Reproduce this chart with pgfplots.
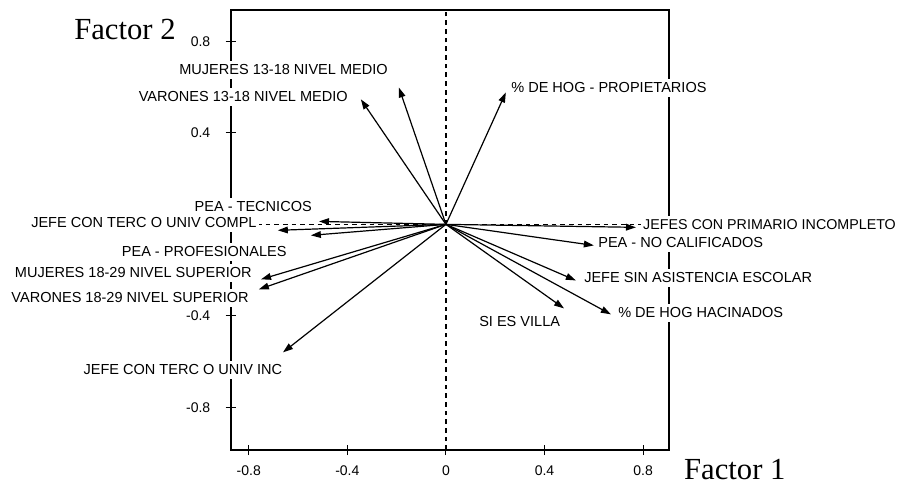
\documentclass[border=0pt]{standalone}
\usepackage{pgfplots}
\pgfplotsset{compat=1.18}
\usepackage{fontspec}
\setmainfont{Liberation Sans}
\newfontfamily\seriffont{Liberation Serif}
\usetikzlibrary{arrows.meta}
\newcommand{\lab}{\fontsize{10.9}{12}\selectfont}
\begin{document}
\begin{tikzpicture}
\begin{axis}[
  scale only axis, width=328.5pt, height=330pt,
  xmin=-0.872, xmax=0.905, ymin=-0.985, ymax=0.937,
  clip=false,
  xtick={-0.8,-0.4,0,0.4,0.8}, xticklabels={-0.8,-0.4,0,0.4,0.8},
  ytick={-0.8,-0.4,0.4,0.8}, yticklabels={-0.8,-0.4,0.4,0.8},
  tick pos=left, tick align=center, major tick length=8pt,
  tick style={black, line width=0.8pt},
  axis line style={black, line width=1pt},
  ticklabel style={font=\fontsize{10.5}{12}\selectfont},
  yticklabel style={xshift=-8pt},
  xticklabel style={yshift=-4pt},
  arr/.style={black, line width=0.9pt, no marks, solid, -{Triangle[length=7.5pt,width=5pt]}},
]
\addplot[black, no marks, line width=0.9pt, dash pattern=on 3.5pt off 3pt] coordinates {(0,-0.985) (0,0.937)};
\addplot[black, no marks, line width=0.8pt, dash pattern=on 3.5pt off 3pt] coordinates {(-0.872,0) (0.905,0)};
\addplot[arr] coordinates {(0,0) (-0.191,0.598)};
\addplot[arr] coordinates {(0,0) (-0.345,0.546)};
\addplot[arr] coordinates {(0,0) (0.243,0.576)};
\addplot[arr] coordinates {(0,0) (0.771,-0.013)};
\addplot[arr] coordinates {(0,0) (0.600,-0.092)};
\addplot[arr] coordinates {(0,0) (0.527,-0.245)};
\addplot[arr] coordinates {(0,0) (0.669,-0.393)};
\addplot[arr] coordinates {(0,0) (0.479,-0.367)};
\addplot[arr] coordinates {(0,0) (-0.682,-0.026)};
\addplot[arr] coordinates {(0,0) (-0.515,0.013)};
\addplot[arr] coordinates {(0,0) (-0.548,-0.048)};
\addplot[arr] coordinates {(0,0) (-0.750,-0.240)};
\addplot[arr] coordinates {(0,0) (-0.759,-0.284)};
\addplot[arr] coordinates {(0,0) (-0.661,-0.559)};
\coordinate (l1) at (axis cs:-0.227,0.675);
\coordinate (l2) at (axis cs:-0.389,0.557);
\coordinate (l3) at (axis cs:0.256,0.596);
\coordinate (l4) at (axis cs:0.791,-0.002);
\coordinate (l5) at (axis cs:0.609,-0.081);
\coordinate (l6) at (axis cs:0.552,-0.234);
\coordinate (l7) at (axis cs:0.690,-0.386);
\coordinate (l8) at (axis cs:0.126,-0.426);
\coordinate (l9) at (axis cs:-0.535,0.076);
\coordinate (l10) at (axis cs:-0.759,0.007);
\coordinate (l11) at (axis cs:-0.637,-0.120);
\coordinate (l12) at (axis cs:-0.779,-0.212);
\coordinate (l13) at (axis cs:-0.791,-0.321);
\coordinate (l14) at (axis cs:-1.067,-0.635);
\coordinate (f2) at (axis cs:-1.302,0.849);
\coordinate (f1) at (axis cs:1.172,-1.072);
\coordinate (BL) at (axis cs:-1.809,-1.146);
\coordinate (TR) at (axis cs:1.842,0.980);
\end{axis}
\begin{scope}[every node/.style={fill=white, inner xsep=1.5pt, inner ysep=3pt, font=\lab}]
\node[anchor=east] at (l1) {MUJERES 13-18 NIVEL MEDIO};
\node[anchor=east] at (l2) {VARONES 13-18 NIVEL MEDIO};
\node[anchor=west] at (l3) {\% DE HOG - PROPIETARIOS};
\node[anchor=west, font=\fontsize{10.7}{12}\selectfont] at (l4) {JEFES CON PRIMARIO INCOMPLETO};
\node[anchor=west] at (l5) {PEA - NO CALIFICADOS};
\node[anchor=west] at (l6) {JEFE SIN ASISTENCIA ESCOLAR};
\node[anchor=west] at (l7) {\% DE HOG HACINADOS};
\node[anchor=west] at (l8) {SI ES VILLA};
\node[anchor=east] at (l9) {PEA - TECNICOS};
\node[anchor=east] at (l10) {JEFE CON TERC O UNIV COMPL};
\node[anchor=east] at (l11) {PEA - PROFESIONALES};
\node[anchor=east] at (l12) {MUJERES 18-29 NIVEL SUPERIOR};
\node[anchor=east] at (l13) {VARONES 18-29 NIVEL SUPERIOR};
\node at (l14) {JEFE CON TERC O UNIV INC};
\end{scope}
\node[font=\seriffont\fontsize{23}{26}\selectfont, inner sep=0pt] at (f2) {Factor 2};
\node[font=\seriffont\fontsize{23}{26}\selectfont, inner sep=0pt] at (f1) {Factor 1};
\pgfresetboundingbox
\path[use as bounding box] (BL) rectangle (TR);
\end{tikzpicture}
\end{document}
